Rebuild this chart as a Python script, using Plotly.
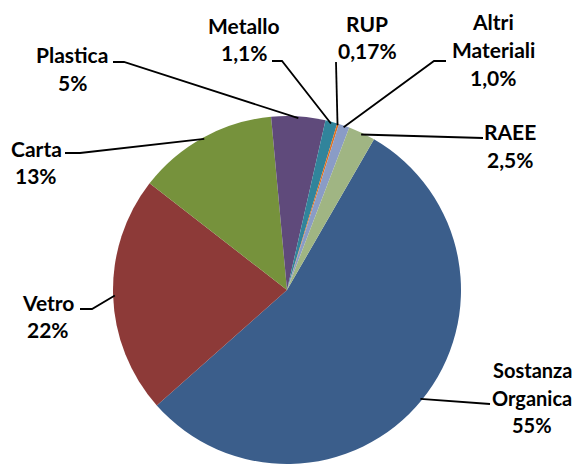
import math
import plotly.graph_objects as go

# ---- data ----
categories = ["Sostanza<br>Organica", "Vetro", "Carta", "Plastica", "Metallo",
              "RUP", "Altri<br>Materiali", "RAEE"]
values = [55, 22, 13, 5, 1.1, 0.17, 1.0, 2.5]
pct_labels = ["55%", "22%", "13%", "5%", "1,1%", "0,17%", "1,0%", "2,5%"]
colors = ["#3B5E8B", "#8D3A38", "#76923C", "#5F4A7B", "#31849B",
          "#E0701E", "#8A9CC6", "#A0B583"]

# ---- layout geometry (pixels in the final screenshot) ----
W, H = 581, 464
OFF = 8  # page body margin of the rendered html
CX, CY, R = 287, 290, 174
ROTATION = 30
LINE_GAP = 27.7

# label text: centre x and first-line centre y
label_pos = [(532, 370), (48, 302), (36, 148), (72, 55), (244, 25),
             (367, 23), (493, 22), (510, 132)]
label_size = [20, 21, 21, 21, 21, 21, 21, 21]
line_start = [(490, 404), (80, 309), (65, 153), (113, 62), (272, 61),
              (336, 62), (446, 61), (483, 138)]
line_elbow = [None, (92, 309), (80, 153), (124, 62), (282, 61),
              None, (434, 61), None]


def px(x):
    return (x - OFF) / W


def py(y):
    return 1 - (y - OFF) / H


fig = go.Figure(go.Pie(
    labels=[c.replace("<br>", " ") for c in categories],
    values=values,
    sort=False,
    direction="clockwise",
    rotation=ROTATION,
    marker=dict(colors=colors, line=dict(width=0)),
    textinfo="none",
    hoverinfo="label+percent",
    showlegend=False,
    domain=dict(x=[px(CX - R), px(CX + R)], y=[py(CY + R), py(CY - R)]),
))

total = sum(values)
shapes = []
annotations = []
cum = 0.0
for i, v in enumerate(values):
    mid = ROTATION + 360 * (cum + v / 2) / total
    cum += v
    a = math.radians(mid)
    ex = CX + R * 0.99 * math.sin(a)
    ey = CY - R * 0.99 * math.cos(a)
    pts = [line_start[i]]
    if line_elbow[i] is not None:
        pts.append(line_elbow[i])
    pts.append((ex, ey))
    path = "M " + " L ".join(f"{px(x):.5f},{py(y):.5f}" for x, y in pts)
    shapes.append(dict(type="path", xref="paper", yref="paper", path=path,
                       line=dict(color="black", width=1.8)))
    lx, ly = label_pos[i]
    lines = categories[i].split("<br>") + [pct_labels[i]]
    for k, t in enumerate(lines):
        annotations.append(dict(
            x=px(lx), y=py(ly + k * LINE_GAP), xref="paper", yref="paper",
            text=f"<b>{t}</b>",
            showarrow=False, xanchor="center", yanchor="middle", align="center",
            font=dict(family="Lato", size=label_size[i], color="black"),
        ))

fig.update_layout(
    width=W, height=H,
    margin=dict(l=0, r=0, t=0, b=0),
    paper_bgcolor="white", plot_bgcolor="white",
    shapes=shapes, annotations=annotations,
)

fig.write_html("out.html")
